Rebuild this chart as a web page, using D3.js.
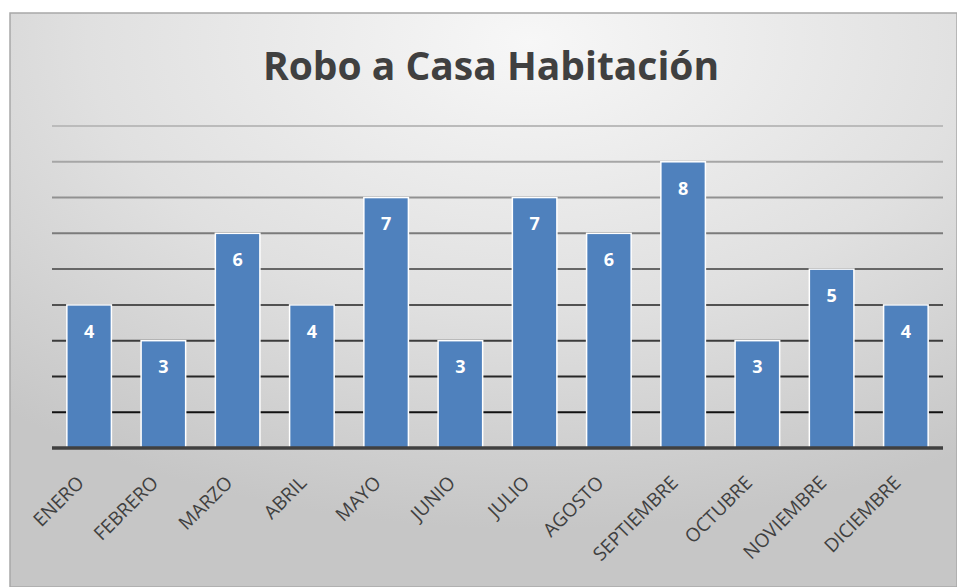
<!DOCTYPE html>
<html>
<head>
<meta charset="utf-8">
<script src="https://cdn.jsdelivr.net/npm/d3@7"></script>
<style>
  body { margin: 0; background: #fff; }
  svg { display: block; }
</style>
</head>
<body>
<div id="chart"></div>
<script>
// Data
var months = ["ENERO", "FEBRERO", "MARZO", "ABRIL", "MAYO", "JUNIO", "JULIO",
  "AGOSTO", "SEPTIEMBRE", "OCTUBRE", "NOVIEMBRE", "DICIEMBRE"];
var robos = [4, 3, 6, 4, 7, 3, 7, 6, 8, 3, 5, 4];
var gridTicks = [1, 2, 3, 4, 5, 6, 7, 8, 9];
var chartTitle = "Robo a Casa Habitación";

var svgWidth = 957;
var svgHeight = 587;

// plot area inside the frame
var plot = { left: 52, right: 943, top: 126, bottom: 448 };

var svg = d3.select("#chart")
  .append("svg")
  .attr("width", svgWidth)
  .attr("height", svgHeight);

// background gradient, light at the top centre, grey towards the edges
var defs = svg.append("defs");
var bg = defs.append("radialGradient")
  .attr("id", "bg")
  .attr("cx", "55%").attr("cy", "5%")
  .attr("r", "85%");
bg.append("stop").attr("offset", "0%").attr("stop-color", "#f7f7f7");
bg.append("stop").attr("offset", "55%").attr("stop-color", "#e0e0e0");
bg.append("stop").attr("offset", "100%").attr("stop-color", "#c6c6c6");

svg.append("rect")
  .attr("x", 10).attr("y", 13)
  .attr("width", svgWidth - 10).attr("height", svgHeight - 13)
  .attr("fill", "url(#bg)")
  .attr("stroke", "#a8a8a8")
  .attr("stroke-width", 1.5);

// scales
var xScale = d3.scaleBand()
  .domain(months)
  .range([plot.left, plot.right])
  .paddingInner(0.4)
  .paddingOuter(0.2);

var yScale = d3.scaleLinear()
  .domain([0, 9])
  .range([plot.bottom, plot.top]);

// gridlines get darker toward the bottom
var gridColor = d3.scaleLinear()
  .domain([1, 9])
  .range(["#111111", "#bbbbbb"]);

svg.append("g")
  .selectAll("line")
  .data(gridTicks)
  .enter()
  .append("line")
  .attr("x1", plot.left)
  .attr("x2", plot.right)
  .attr("y1", d => yScale(d))
  .attr("y2", d => yScale(d))
  .attr("stroke", d => gridColor(d))
  .attr("stroke-width", 2);

// bars
svg.append("g")
  .selectAll("rect")
  .data(robos)
  .enter()
  .append("rect")
  .attr("x", (d, i) => xScale(months[i]))
  .attr("y", d => yScale(d))
  .attr("width", xScale.bandwidth())
  .attr("height", d => yScale(0) - yScale(d))
  .attr("fill", "#4f81bd")
  .attr("stroke", "#ffffff")
  .attr("stroke-width", 1.5);

// value labels inside the bars
svg.append("g")
  .selectAll("text")
  .data(robos)
  .enter()
  .append("text")
  .attr("x", (d, i) => xScale(months[i]) + xScale.bandwidth() / 2)
  .attr("y", d => yScale(d) + 28)
  .attr("text-anchor", "middle")
  .attr("dominant-baseline", "middle")
  .attr("font-family", "'Open Sans', sans-serif")
  .attr("font-weight", "bold")
  .attr("font-size", 18)
  .attr("fill", "#ffffff")
  .text(d => d);

// x axis line
svg.append("line")
  .attr("x1", plot.left)
  .attr("x2", plot.right)
  .attr("y1", yScale(0))
  .attr("y2", yScale(0))
  .attr("stroke", "#404040")
  .attr("stroke-width", 3.5);

// rotated month labels
var bottomAxis = d3.axisBottom(xScale).tickSize(0).tickPadding(0);
var xAxisGroup = svg.append("g")
  .attr("transform", `translate(0, ${yScale(0)})`)
  .call(bottomAxis);
xAxisGroup.select(".domain").remove();
xAxisGroup.attr("font-family", "'Open Sans', sans-serif").attr("font-size", 19);
xAxisGroup.selectAll("text")
  .style("font-size", "19px")
  .attr("fill", "#404040")
  .attr("text-anchor", "end")
  .attr("dy", null)
  .attr("y", 0)
  .attr("transform", "translate(-4, 36) rotate(-45)");

// title
svg.append("text")
  .attr("x", 491)
  .attr("y", 80)
  .attr("text-anchor", "middle")
  .attr("font-family", "'Open Sans', sans-serif")
  .attr("font-weight", "bold")
  .attr("font-size", 39)
  .attr("fill", "#404040")
  .text(chartTitle);
</script>
</body>
</html>
